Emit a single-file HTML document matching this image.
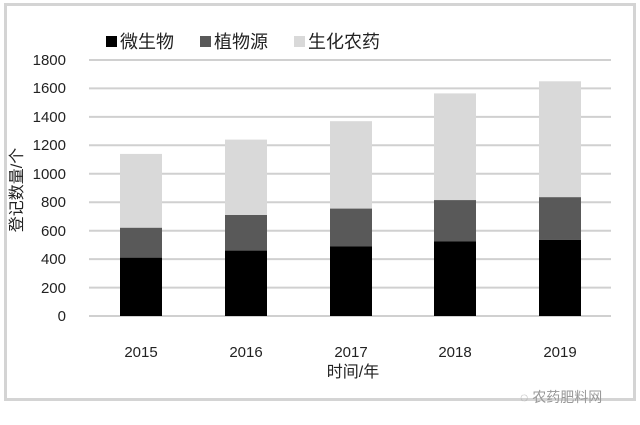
<!DOCTYPE html>
<html><head><meta charset="utf-8"><style>
body{margin:0;background:#fff;}
svg{display:block;font-family:"Liberation Sans","Noto Sans CJK SC",sans-serif;}
</style></head><body>
<svg width="640" height="425" viewBox="0 0 640 425">
<rect x="0" y="0" width="640" height="425" fill="#fff"/>
<rect x="5.5" y="4.5" width="629" height="395" fill="#fff" stroke="#d4d4d4" stroke-width="3"/>
<g stroke="#d0d0d0" stroke-width="2">
<line x1="89" x2="611" y1="316" y2="316"/>
<line x1="89" x2="611" y1="287.6" y2="287.6"/>
<line x1="89" x2="611" y1="259.1" y2="259.1"/>
<line x1="89" x2="611" y1="230.7" y2="230.7"/>
<line x1="89" x2="611" y1="202.2" y2="202.2"/>
<line x1="89" x2="611" y1="173.8" y2="173.8"/>
<line x1="89" x2="611" y1="145.3" y2="145.3"/>
<line x1="89" x2="611" y1="116.9" y2="116.9"/>
<line x1="89" x2="611" y1="88.4" y2="88.4"/>
<line x1="89" x2="611" y1="60" y2="60"/>
</g>
<g font-size="15" fill="#222" text-anchor="end">
<text x="66" y="321">0</text><text x="66" y="293">200</text><text x="66" y="264">400</text><text x="66" y="236">600</text><text x="66" y="207">800</text><text x="66" y="179">1000</text><text x="66" y="150">1200</text><text x="66" y="122">1400</text><text x="66" y="93">1600</text><text x="66" y="65">1800</text>
</g>
<g>
<rect x="120" y="153.9" width="42" height="74" fill="#d9d9d9"/><rect x="120" y="227.8" width="42" height="30" fill="#595959"/><rect x="120" y="257.7" width="42" height="58.3" fill="#000"/>
<rect x="225" y="139.6" width="42" height="75.5" fill="#d9d9d9"/><rect x="225" y="215" width="42" height="35.6" fill="#595959"/><rect x="225" y="250.6" width="42" height="65.4" fill="#000"/>
<rect x="330" y="121.2" width="42" height="87.5" fill="#d9d9d9"/><rect x="330" y="208.6" width="42" height="37.7" fill="#595959"/><rect x="330" y="246.3" width="42" height="69.7" fill="#000"/>
<rect x="434" y="93.4" width="42" height="106.8" fill="#d9d9d9"/><rect x="434" y="200.1" width="42" height="41.2" fill="#595959"/><rect x="434" y="241.3" width="42" height="74.7" fill="#000"/>
<rect x="539" y="81.3" width="42" height="116" fill="#d9d9d9"/><rect x="539" y="197.2" width="42" height="42.7" fill="#595959"/><rect x="539" y="239.9" width="42" height="76.1" fill="#000"/>
</g>
<g font-size="15" fill="#222" text-anchor="middle">
<text x="141" y="357">2015</text><text x="246" y="357">2016</text><text x="351" y="357">2017</text><text x="455" y="357">2018</text><text x="560" y="357">2019</text>
<text x="353" y="377" font-size="16">时间/年</text>
</g>
<text transform="translate(22,190) rotate(-90)" font-size="16" fill="#222" text-anchor="middle">登记数量/个</text>
<rect x="106" y="36" width="11" height="11" fill="#000"/>
<text x="120" y="48" font-size="18" fill="#222">微生物</text>
<rect x="200" y="36" width="11" height="11" fill="#595959"/>
<text x="214" y="48" font-size="18" fill="#222">植物源</text>
<rect x="294" y="36" width="11" height="11" fill="#d9d9d9"/>
<text x="308" y="48" font-size="18" fill="#222">生化农药</text>
<text x="520" y="402" font-size="14" fill="#999">◌ 农药肥料网</text>
</svg>
</body></html>
